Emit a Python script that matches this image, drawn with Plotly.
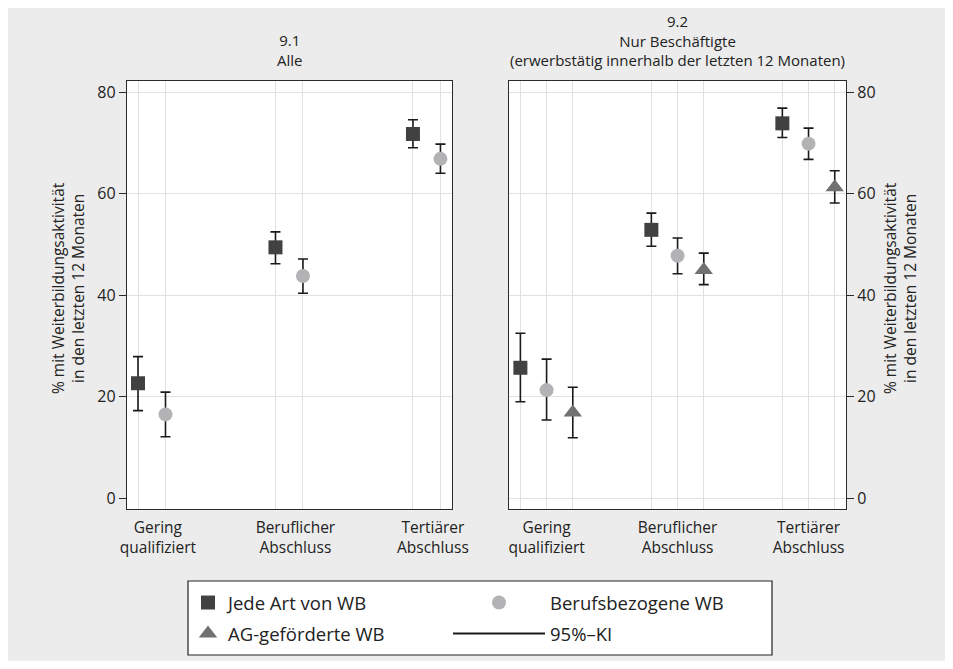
import plotly.graph_objects as go

# ---------------- data ----------------
categories = ["Gering<br>qualifiziert", "Beruflicher<br>Abschluss", "Tertiärer<br>Abschluss"]
series_names = ["Jede Art von WB", "Berufsbezogene WB", "AG-geförderte WB"]
ci_name = "95%–KI"

# Panel 9.1 – Alle
alle_jede = [22.65, 49.45, 71.8]
alle_jede_lo = [17.25, 46.2, 69.1]
alle_jede_hi = [27.9, 52.5, 74.6]
alle_beruf = [16.5, 43.8, 66.9]
alle_beruf_lo = [12.1, 40.4, 64.05]
alle_beruf_hi = [20.9, 47.15, 69.8]

# Panel 9.2 – Nur Beschäftigte
besch_jede = [25.7, 52.9, 73.9]
besch_jede_lo = [19.0, 49.65, 71.1]
besch_jede_hi = [32.5, 56.2, 76.9]
besch_beruf = [21.3, 47.8, 69.9]
besch_beruf_lo = [15.4, 44.25, 66.8]
besch_beruf_hi = [27.4, 51.3, 72.95]
besch_ag = [16.9, 45.0, 61.3]
besch_ag_lo = [11.9, 42.1, 58.2]
besch_ag_hi = [21.85, 48.3, 64.55]

y_ticks = [0, 20, 40, 60, 80]

# ---------------- styles ----------------
FONT = "Open Sans"
BG = "#ececec"
GRID = "#e1e1e1"
AXIS = "#2a2a2a"
colors = ["#414141", "#b3b3b6", "#717171"]
symbols = ["square", "circle", "triangle-up"]
sizes = [14, 14, 16]
offsets = [0.0, 0.2, 0.4]
groups = [1, 2, 3]
legend_of = ["legend", "legend2", "legend"]   # legend column of each series

fig = go.Figure()


def add_series(vals, lo, hi, k, xa, ya, showlegend):
    xs = [g + offsets[k] for g in groups]
    fig.add_trace(go.Scatter(
        x=xs, y=vals, mode="markers", name=series_names[k],
        xaxis=xa, yaxis=ya, showlegend=showlegend,
        legend=legend_of[k], legendgroup=series_names[k],
        marker=dict(symbol=symbols[k], size=sizes[k], color=colors[k], line=dict(width=0)),
        error_y=dict(type="data", symmetric=False,
                     array=[h - v for h, v in zip(hi, vals)],
                     arrayminus=[v - l for v, l in zip(vals, lo)],
                     color="#1a1a1a", thickness=1.6, width=5),
    ))


add_series(alle_jede, alle_jede_lo, alle_jede_hi, 0, "x", "y", False)
add_series(alle_beruf, alle_beruf_lo, alle_beruf_hi, 1, "x", "y", False)
add_series(besch_jede, besch_jede_lo, besch_jede_hi, 0, "x2", "y2", True)
add_series(besch_beruf, besch_beruf_lo, besch_beruf_hi, 1, "x2", "y2", True)
add_series(besch_ag, besch_ag_lo, besch_ag_hi, 2, "x2", "y2", True)

# legend-only entry for the confidence interval
fig.add_trace(go.Scatter(x=[None], y=[None], mode="lines", name=ci_name,
                         legend="legend2", legendgroup=ci_name,
                         line=dict(color="#1a1a1a", width=2), xaxis="x2", yaxis="y2"))

# page has an 8px body margin; figure sized to fit the 953x669 window
M = 8
W, H = 953 - 2 * M, 669 - 2 * M
def px_x(p): return (p - M) / W
def px_y(p): return 1 - (p - M) / H

y_common = dict(range=[-2.15, 82.25], tickvals=y_ticks, showgrid=False, zeroline=False,
                showline=True, mirror=True, linecolor=AXIS, linewidth=1.3,
                ticks="outside", ticklen=7, tickwidth=1.2, tickcolor=AXIS,
                tickfont=dict(family=FONT, size=16, color="#222"),
                minor=dict(tickvals=[20, 40, 60, 80], showgrid=True, gridcolor=GRID,
                           gridwidth=1.3, ticks=""),
                domain=[px_y(509), px_y(81)], automargin=False)

x_common = dict(showgrid=False, zeroline=False, showline=True, mirror=True,
                linecolor=AXIS, linewidth=1.3, ticks="",
                ticklabelstandoff=4, automargin=False,
                tickfont=dict(family=FONT, size=15.5, color="#222"))

legend_common = dict(orientation="v", yanchor="top", xanchor="left",
                     bgcolor="rgba(0,0,0,0)", borderwidth=0,
                     traceorder="grouped", tracegroupgap=4,
                     font=dict(family=FONT, size=18.5, color="#222"))

fig.update_layout(
    width=W, height=H,
    margin=dict(l=0, r=0, t=0, b=0, autoexpand=False),
    paper_bgcolor=BG, plot_bgcolor="white",
    font=dict(family=FONT, color="#222"),
    xaxis=dict(x_common, range=[0.92, 3.284], domain=[px_x(127), px_x(452)],
               tickvals=[g + 0.145 for g in groups], ticktext=categories,
               minor=dict(tickvals=[g + o for g in groups for o in offsets[:2]],
                          showgrid=True, gridcolor=GRID, gridwidth=1.3, ticks=""),
               anchor="y"),
    yaxis=dict(y_common, anchor="x", side="left"),
    xaxis2=dict(x_common, range=[0.913, 3.486], domain=[px_x(509), px_x(846)],
                tickvals=[g + 0.2 for g in groups], ticktext=categories,
                minor=dict(tickvals=[g + o for g in groups for o in offsets],
                           showgrid=True, gridcolor=GRID, gridwidth=1.3, ticks=""),
                anchor="y2"),
    yaxis2=dict(y_common, anchor="x2", side="right",
                minor=dict(tickvals=[0, 20, 40, 60, 80], showgrid=True, gridcolor=GRID,
                           gridwidth=1.3, ticks="")),
    legend=dict(legend_common, x=px_x(188), y=px_y(584)),
    legend2=dict(legend_common, x=px_x(448), y=px_y(584), itemwidth=92),
)

# legend frame
fig.add_shape(type="rect", xref="paper", yref="paper",
              x0=px_x(188), x1=px_x(772), y0=px_y(655), y1=px_y(581),
              fillcolor="white", line=dict(color="#222", width=1.2), layer="above")

# panel titles
title_font = dict(family=FONT, size=15, color="#222")
LH = 15 * 1.3
panel_titles = [
    (289.5, ["9.1", "Alle"]),
    (677.7, ["9.2", "Nur Beschäftigte", "(erwerbstätig innerhalb der letzten 12 Monaten)"]),
]
for cx, lines in panel_titles:
    n = len(lines)
    cy = 60 - (n - 1) * LH / 2
    fig.add_annotation(text="<br>".join(lines), x=px_x(cx), y=px_y(cy),
                       xref="paper", yref="paper", xanchor="center", yanchor="middle",
                       showarrow=False, font=title_font)

# y-axis titles
ytitle = "% mit Weiterbildungsaktivität<br>in den letzten 12 Monaten"
for cx in (68, 900):
    fig.add_annotation(text=ytitle, x=px_x(cx), y=px_y(288), xref="paper", yref="paper",
                       xanchor="center", yanchor="middle", showarrow=False, textangle=-90,
                       font=dict(family=FONT, size=15.5, color="#222"))

fig.write_html("out.html")
